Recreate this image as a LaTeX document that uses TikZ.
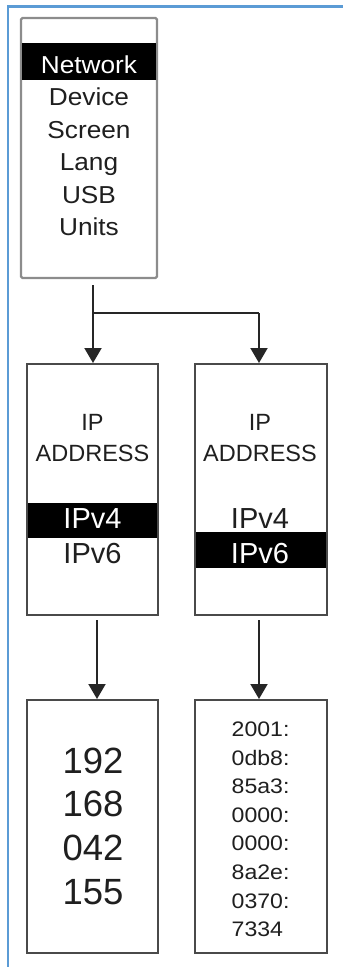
\documentclass[tikz,border=0pt]{standalone}
\usepackage{fontspec}
\setmainfont{Liberation Sans}
\newfontfamily\wideLS{Liberation Sans}[FakeStretch=1.07]
\newfontfamily\hexLS{Liberation Sans}[FakeStretch=1.1]
\usetikzlibrary{arrows.meta}
\definecolor{framblue}{HTML}{5B9BD5}
\definecolor{lightbord}{HTML}{8C8C8C}
\definecolor{darkbord}{HTML}{4A4A4A}
\begin{document}
\begin{tikzpicture}[x=1pt,y=-1pt,
  menubox/.style={draw=lightbord, line width=2.2pt, rounded corners=1.5pt, fill=white, inner sep=0pt},
  panel/.style={draw=darkbord, line width=2pt, fill=white, inner sep=0pt},
  band/.style={fill=black, draw=none, inner sep=0pt},
  menutxt/.style={anchor=base, inner sep=0pt, text=black!88, font=\wideLS\fontsize{24.5}{28}\selectfont},
  iptxt/.style={anchor=base, inner sep=0pt, text=black!88, font=\fontsize{23.5}{27}\selectfont},
  vtxt/.style={anchor=base, inner sep=0pt, text=black!88, font=\fontsize{29}{34}\selectfont},
  bigtxt/.style={anchor=base, inner sep=0pt, text=black!88, font=\fontsize{36.5}{42}\selectfont},
  hextxt/.style={anchor=base west, inner sep=0pt, text=black!88, font=\hexLS\fontsize{21}{25}\selectfont},
  arr/.style={line width=2pt, draw=black!85, -{Triangle[width=17pt,length=15pt]}},
  conn/.style={line width=2pt, draw=black!85}]
\useasboundingbox (0,0) rectangle (343,967);
% blue frame
\draw[framblue, line width=2.2pt] (8,967) -- (8,6.5) -- (343,6.5);

% top menu box
\node[menubox, minimum width=136pt, minimum height=260pt] (menu) at (89,148) {};
\node[band, minimum width=134pt, minimum height=37pt] (nband) at (89,61.5) {};
\node[menutxt, text=white] (mnet) at (89,73) {Network};
\node[menutxt] (mdev) at (89,105.5) {Device};
\node[menutxt] (mscr) at (89,138) {Screen};
\node[menutxt] (mlang) at (89,170.5) {Lang};
\node[menutxt] (musb) at (89,203) {USB};
\node[menutxt] (munits) at (89,235.5) {Units};

% middle boxes
\node[panel, minimum width=131pt, minimum height=251pt] (ml) at (92.5,489.5) {};
\node[panel, minimum width=132pt, minimum height=251pt] (mr) at (261,489.5) {};
\node[band, minimum width=129pt, minimum height=35pt] (lband) at (92.5,520.5) {};
\node[band, minimum width=130pt, minimum height=36pt] (rband) at (261,550) {};

\node[iptxt] (lip) at (92.5,430) {IP};
\node[iptxt] (laddr) at (92.5,461) {ADDRESS};
\node[vtxt, text=white] (lv4) at (92.5,528) {IPv4};
\node[vtxt] (lv6) at (92.5,563.5) {IPv6};

\node[iptxt] (rip) at (260,430) {IP};
\node[iptxt] (raddr) at (260,461) {ADDRESS};
\node[vtxt] (rv4) at (260,528) {IPv4};
\node[vtxt, text=white] (rv6) at (260,563.5) {IPv6};

% bottom boxes
\node[panel, minimum width=131pt, minimum height=253pt] (bl) at (92.5,826.5) {};
\node[panel, minimum width=132pt, minimum height=253pt] (br) at (261,826.5) {};

\node[bigtxt] (o1) at (93,773) {192};
\node[bigtxt] (o2) at (93,816.8) {168};
\node[bigtxt] (o3) at (93,860.6) {042};
\node[bigtxt] (o4) at (93,904.4) {155};

\node[hextxt] (h1) at (231.5,736.5) {2001:};
\node[hextxt] (h2) at (231.5,765.1) {0db8:};
\node[hextxt] (h3) at (231.5,793.7) {85a3:};
\node[hextxt] (h4) at (231.5,822.3) {0000:};
\node[hextxt] (h5) at (231.5,850.9) {0000:};
\node[hextxt] (h6) at (231.5,879.5) {8a2e:};
\node[hextxt] (h7) at (231.5,908.1) {0370:};
\node[hextxt] (h8) at (231.5,936.7) {7334};

% connectors
\coordinate (s1) at (93,285);
\coordinate (j1) at (93,313);
\coordinate (j2) at (259,313);
\coordinate (s2) at (97,620);
\coordinate (s3) at (259,620);
\draw[arr] (s1) -- (s1 |- ml.north);
\draw[conn] (j1) -- (j2);
\draw[arr] (j2) -- (j2 |- mr.north);
\draw[arr] (s2) -- (s2 |- bl.north);
\draw[arr] (s3) -- (s3 |- br.north);
\end{tikzpicture}
\end{document}
